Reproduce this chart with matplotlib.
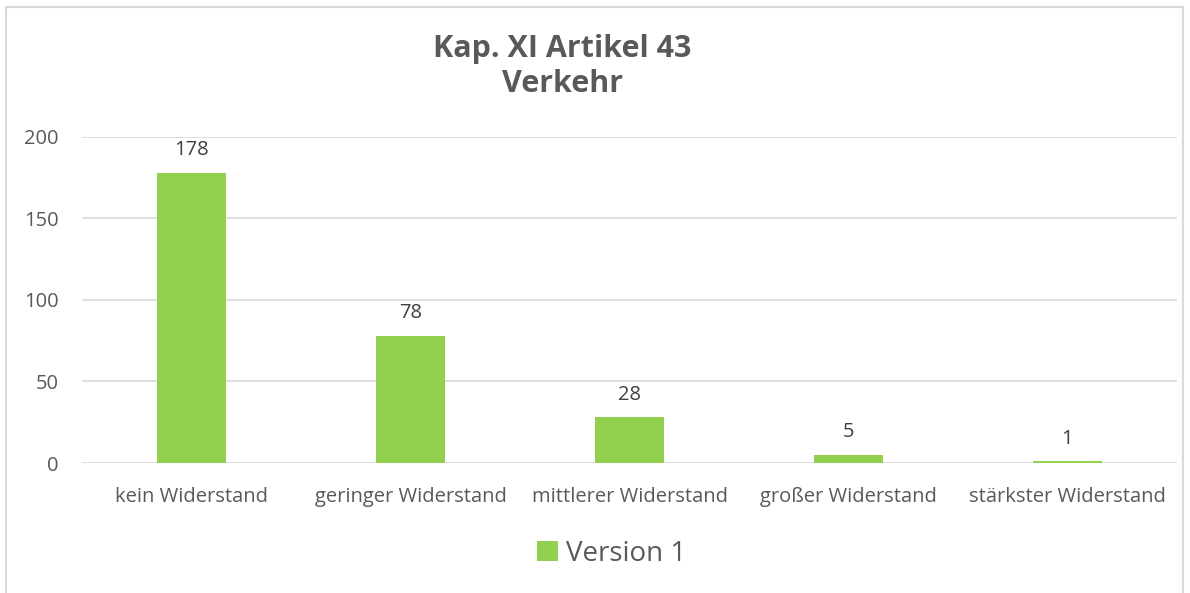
import matplotlib.pyplot as plt
from matplotlib.patches import Rectangle

# Daten
categories = ['kein Widerstand', 'geringer Widerstand', 'mittlerer Widerstand',
              'großer Widerstand', 'stärkster Widerstand']
values = [178, 78, 28, 5, 1]
series_name = 'Version 1'
y_ticks = [0, 50, 100, 150, 200]

green = '#92D050'
textc = '#595959'
gridc = '#D9D9D9'

plt.rcParams['font.family'] = ['Open Sans', 'DejaVu Sans']

fig = plt.figure(figsize=(11.9, 5.93), dpi=100)
ax = fig.add_axes([0.069, 0.2192, 0.92, 0.5500])

x = range(len(categories))
bars = ax.bar(x, values, width=0.315, color=green, label=series_name, zorder=3)

for b, v in zip(bars, values):
    ax.annotate(str(v), (b.get_x() + b.get_width() / 2, v), xytext=(0, 9),
                textcoords='offset points', ha='center', va='bottom',
                fontsize=14.5, color='#404040')

ax.set_xlim(-0.5, len(categories) - 0.5)
ax.set_ylim(0, 200)
ax.set_yticks(y_ticks)
ax.set_xticks(list(x))
ax.set_xticklabels(categories)
ax.tick_params(axis='both', length=0, labelsize=14.5, labelcolor=textc)
ax.tick_params(axis='x', pad=17)
ax.tick_params(axis='y', pad=17)
ax.grid(axis='y', color=gridc, linewidth=1.2, zorder=0)
for s in ax.spines.values():
    s.set_visible(False)

fig.text(0.4725, 0.888, 'Kap. XI Artikel 43\nVerkehr', ha='center', va='center',
         fontsize=22, fontweight='bold', color=textc, linespacing=1.25)

fig.legend(loc='center', bbox_to_anchor=(0.514, 0.066), frameon=False,
           fontsize=20, labelcolor=textc, handlelength=0.75, handleheight=0.75,
           handletextpad=0.3)

fig.patches.append(Rectangle((6 / 1190, -0.05), 1177 / 1190, 1.05 - 7 / 593,
                             transform=fig.transFigure, fill=False,
                             edgecolor=gridc, linewidth=1.5))

fig.savefig('out.png', dpi=100)
